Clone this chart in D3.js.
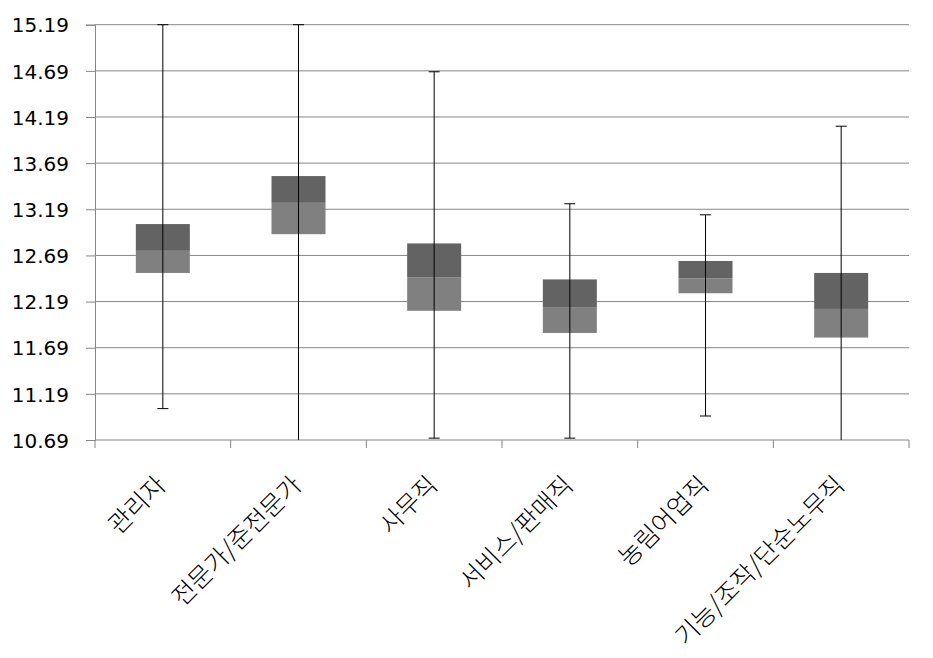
<!DOCTYPE html>
<html>
<head>
	<title>box-occupation</title>
	<meta charset="utf-8">
	<style type="text/css">
		body { margin: 0; background: #fff; }
		text { fill: #000; }
	</style>
</head>
<body>

<script type="text/javascript" src="https://cdn.jsdelivr.net/npm/d3@7"></script>
<script type="text/javascript">
	// data
	var categories = ["관리자", "전문가/준전문가", "사무직", "서비스/판매직", "농림어업직", "기능/조작/단순노무직"];
	var whiskerMin = [11.03, 10.60, 10.71, 10.71, 10.95, 10.60];
	var q1 = [12.50, 12.92, 12.09, 11.85, 12.28, 11.80];
	var median = [12.74, 13.26, 12.45, 12.13, 12.44, 12.11];
	var q3 = [13.03, 13.55, 12.82, 12.43, 12.63, 12.50];
	var whiskerMax = [15.19, 15.19, 14.68, 13.25, 13.13, 14.09];
	var yTicks = [10.69, 11.19, 11.69, 12.19, 12.69, 13.19, 13.69, 14.19, 14.69, 15.19];

	// size
	var w = 933;
	var h = 658;
	var margin = {top: 24.7, right: 24, bottom: 218, left: 95};
	var gridColor = "#868686";

	var svg = d3.select("body").append("svg").attr("width", w).attr("height", h);

	var x = d3.scaleBand().domain(categories).range([margin.left, w - margin.right]).padding(0);
	var y = d3.scaleLinear().domain([yTicks[0], yTicks[yTicks.length - 1]]).range([h - margin.bottom, margin.top]);

	var rows = categories.map(function(c, i) {
		return {cat: c, lo: whiskerMin[i], q1: q1[i], med: median[i], q3: q3[i], hi: whiskerMax[i]};
	});

	// clip so whiskers past the axis range are cut off
	svg.append("clipPath").attr("id", "plot")
		.append("rect")
		.attr("x", margin.left).attr("y", margin.top - 2)
		.attr("width", w - margin.right - margin.left)
		.attr("height", h - margin.bottom - margin.top + 2);

	/*===== grid + y axis =====*/
	var yAxis = d3.axisLeft(y).tickValues(yTicks).tickSize(9).tickPadding(17)
		.tickFormat(function(d) { return d.toFixed(2); });
	var gy = svg.append("g").attr("transform", "translate(" + margin.left + ",0)").call(yAxis);
	gy.select(".domain").attr("stroke", gridColor);
	gy.selectAll(".tick line").attr("stroke", gridColor);
	gy.selectAll(".tick text")
		.style("font-size", "20px")
		.style("font-family", "\"DejaVu Sans\", sans-serif")
		.attr("dy", "0.36em");

	svg.append("g").selectAll("line.grid")
		.data(yTicks.slice(1))
		.enter().append("line")
		.attr("x1", margin.left).attr("x2", w - margin.right)
		.attr("y1", function(d) { return y(d); }).attr("y2", function(d) { return y(d); })
		.attr("stroke", gridColor);

	/*===== x axis =====*/
	var y0 = y(yTicks[0]);
	svg.append("line")
		.attr("x1", margin.left).attr("x2", w - margin.right)
		.attr("y1", y0).attr("y2", y0)
		.attr("stroke", gridColor);
	var bounds = categories.map(function(c) { return x(c); }).concat([x(categories[categories.length - 1]) + x.bandwidth()]);
	svg.append("g").selectAll("line")
		.data(bounds)
		.enter().append("line")
		.attr("x1", function(d) { return d; }).attr("x2", function(d) { return d; })
		.attr("y1", y0).attr("y2", y0 + 8)
		.attr("stroke", gridColor);

	svg.append("g").selectAll("text")
		.data(categories)
		.enter().append("text")
		.attr("transform", function(d) {
			return "translate(" + (x(d) + x.bandwidth() / 2 - 3) + "," + (y0 + 39) + ") rotate(-45)";
		})
		.attr("text-anchor", "end")
		.attr("dominant-baseline", "central")
		.style("font-family", "\"Noto Sans CJK KR\", sans-serif")
		.style("font-size", "25px")
		.style("font-weight", 300)
		.text(function(d) { return d; });

	/*===== boxes =====*/
	var boxW = 54;
	var units = svg.append("g").attr("clip-path", "url(#plot)")
		.selectAll("g.unit")
		.data(rows)
		.enter().append("g")
		.attr("class", "unit")
		.attr("transform", function(d) { return "translate(" + (x(d.cat) + x.bandwidth() / 2) + ",0)"; });

	// lower half
	units.append("rect")
		.attr("x", -boxW / 2).attr("width", boxW)
		.attr("y", function(d) { return y(d.med); })
		.attr("height", function(d) { return y(d.q1) - y(d.med); })
		.attr("fill", "#808080");
	// upper half
	units.append("rect")
		.attr("x", -boxW / 2).attr("width", boxW)
		.attr("y", function(d) { return y(d.q3); })
		.attr("height", function(d) { return y(d.med) - y(d.q3); })
		.attr("fill", "#636363");

	// whiskers
	units.append("line")
		.attr("x1", 0).attr("x2", 0)
		.attr("y1", function(d) { return y(d.hi); }).attr("y2", function(d) { return y(d.lo); })
		.attr("stroke", "#000");
	units.append("line")
		.attr("x1", -5.5).attr("x2", 5.5)
		.attr("y1", function(d) { return y(d.hi); }).attr("y2", function(d) { return y(d.hi); })
		.attr("stroke", "#000");
	units.append("line")
		.attr("x1", -5.5).attr("x2", 5.5)
		.attr("y1", function(d) { return y(d.lo); }).attr("y2", function(d) { return y(d.lo); })
		.attr("stroke", "#000");
</script>
</body>
</html>
